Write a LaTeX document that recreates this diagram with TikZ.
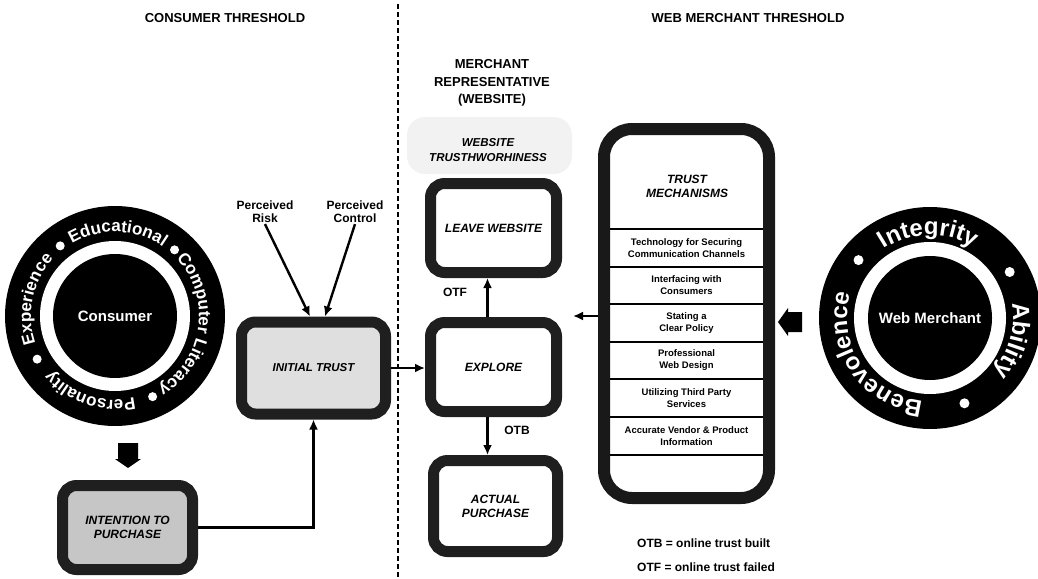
\documentclass[tikz,border=0pt]{standalone}
\usepackage{fontspec}
\setmainfont{Liberation Sans}
\usetikzlibrary{arrows.meta,decorations.text,calc}
\begin{document}
\begin{tikzpicture}[x=1pt,y=1pt,
  box/.style={draw=black!88, line width=11pt, rounded corners=14pt, minimum width=126pt, minimum height=89pt, align=center, font=\fontsize{12}{14}\selectfont\bfseries\itshape, inner sep=2pt},
  arr/.style={line width=2.4pt, -{Latex[length=10pt,width=9pt]}},
  lbl/.style={font=\fontsize{12}{13}\selectfont\bfseries, align=center, inner sep=1pt},
  head/.style={font=\fontsize{13}{15}\selectfont\bfseries},
  item/.style={font=\fontsize{9.5}{12}\selectfont\bfseries, align=center, inner sep=1pt},
  disk/.style={circle, fill=black, text=white, minimum size=124pt, font=\fontsize{15}{17}\selectfont\bfseries},
  blockarr/.style={fill=black}
]
\useasboundingbox (0,0) rectangle (1038,-578);

% headings and divider
\node[head] (hc) at (225,-18) {CONSUMER THRESHOLD};
\node[head] (hw) at (748,-18) {WEB MERCHANT THRESHOLD};
\draw[line width=1.5pt, dash pattern=on 5pt off 3pt] (398,-4) -- (398,-578);

% consumer circle
\coordinate (C) at (115,-316);
\fill[black] (C) circle[radius=110];
\fill[white] (C) circle[radius=75];
\node[disk] (consumer) at (C) {Consumer};
\foreach \a in {128,48,-65,209} \fill[white] ([shift={(\a:89)}]C) circle[radius=4.5];
\path[decorate, decoration={text along path, text align=center, text color=white, text={|\fontsize{17}{17}\selectfont\bfseries|Educational}}] ([shift={(148:84)}]C) arc[start angle=148, end angle=28, radius=84];
\path[decorate, decoration={text along path, text align=center, text color=white, text={|\fontsize{17}{17}\selectfont\bfseries|Computer Literacy}}] ([shift={(52:84)}]C) arc[start angle=52, end angle=-68, radius=84];
\path[decorate, decoration={text along path, text align=center, text color=white, text={|\fontsize{17}{17}\selectfont\bfseries|Personality}}] ([shift={(-50:84)}]C) arc[start angle=-50, end angle=-166, radius=84];
\path[decorate, decoration={text along path, text align=center, text color=white, text={|\fontsize{17}{17}\selectfont\bfseries|Experience}}] ([shift={(228:84)}]C) arc[start angle=228, end angle=108, radius=84];
% down block arrow
\fill[blockarr] (118,-443) -- (138,-443) -- (138,-459) -- (141,-459) -- (128,-468) -- (115,-459) -- (118,-459) -- cycle;

% web merchant circle
\coordinate (W) at (930,-318);
\fill[black] (W) circle[radius=111];
\fill[white] (W) circle[radius=76];
\node[disk] (merchant) at (W) {Web Merchant};
\foreach \a in {141,30,-68} \fill[white] ([shift={(\a:92)}]W) circle[radius=5];
\path[decorate, decoration={text along path, text align=center, text color=white, text={|\fontsize{24}{24}\selectfont\bfseries|Integrity}}] ([shift={(151:83)}]W) arc[start angle=151, end angle=31, radius=83];
\path[decorate, decoration={text along path, text align=center, text color=white, text={|\fontsize{24}{24}\selectfont\bfseries|Ability}}] ([shift={(25:83)}]W) arc[start angle=25, end angle=-55, radius=83];
\path[decorate, decoration={text along path, text align=center, text color=white, text={|\fontsize{24}{24}\selectfont\bfseries|Benevolence}}] ([shift={(-86:83)}]W) arc[start angle=-86, end angle=-206, radius=83];
% left block arrow
\fill[blockarr] (802,-312) -- (802,-332) -- (788,-332) -- (788,-336) -- (778,-322) -- (788,-308) -- (788,-312) -- cycle;

% consumer side boxes
\node[box, fill=gray!45, minimum width=130pt, minimum height=84pt] (intent) at (127.5,-527.5) {INTENTION TO\\PURCHASE};
\node[box, fill=gray!25, minimum width=144pt, minimum height=92pt, font=\fontsize{11.5}{13}\selectfont\bfseries\itshape] (initial) at (313.5,-368) {INITIAL TRUST};
\node[lbl] (risk) at (265,-212) {Perceived\\Risk};
\node[lbl] (control) at (355,-212) {Perceived\\Control};

% merchant representative
\node[lbl, font=\fontsize{13}{17.5}\selectfont\bfseries] (mr) at (492,-83) {MERCHANT\\REPRESENTATIVE\\(WEBSITE)};
\fill[gray!10, rounded corners=18pt] (407,-117) rectangle (572,-174);
\node[lbl, font=\fontsize{11.5}{15}\selectfont\bfseries\itshape] (wt) at (488,-150) {WEBSITE\\TRUSTHWORHINESS};
\node[box, fill=white] (leave) at (493.5,-228) {LEAVE WEBSITE};
\node[box, fill=white] (explore) at (493.5,-367) {EXPLORE};
\node[box, fill=white, minimum width=124pt, minimum height=91pt] (actual) at (495.5,-506) {ACTUAL\\PURCHASE};
\node[lbl] (otf) at (455,-292) {OTF};
\node[lbl] (otb) at (517,-430) {OTB};

% trust mechanisms
\node[draw=black!90, line width=12pt, rounded corners=28pt, fill=white, minimum width=165pt, minimum height=369pt] (trust) at (686.5,-313.5) {};
\foreach \yy in {229,267,304,342,379,417,455} \draw[line width=2pt] (610,-\yy) -- (763,-\yy);
\node[lbl, font=\fontsize{12}{14}\selectfont\bfseries\itshape] (tm) at (687,-186) {TRUST\\MECHANISMS};
\node[item] (m1) at (686.5,-248) {Technology for Securing\\Communication Channels};
\node[item] (m2) at (686.5,-285.5) {Interfacing with\\Consumers};
\node[item] (m3) at (686.5,-323) {Stating a\\Clear Policy};
\node[item] (m4) at (686.5,-360.5) {Professional\\Web Design};
\node[item] (m5) at (686.5,-398) {Utilizing Third Party\\Services};
\node[item] (m6) at (686.5,-436) {Accurate Vendor \& Product\\Information};
\coordinate (tipT) at (573,-316);

% legend
\node[lbl, anchor=west] (leg1) at (636,-543) {OTB = online trust built};
\node[lbl, anchor=west] (leg2) at (636,-567) {OTF = online trust failed};

% connectors
\draw[arr] (intent.east) -| (initial.south);
\draw[arr] (risk.south) -- ([xshift=-3.5pt]initial.north);
\draw[arr] (control.south) -- ([xshift=11.5pt]initial.north);
\draw[arr] (initial.east) -- (initial.east -| explore.west);
\draw[arr] ([xshift=-6pt]explore.north) -- ([xshift=-6pt]explore.north |- leave.south);
\draw[arr] ([xshift=-6pt]explore.south) -- ([xshift=-6pt]explore.south |- actual.north);
\draw[arr] ([yshift=-2.5pt]trust.west) -- (tipT);
\end{tikzpicture}
\end{document}
